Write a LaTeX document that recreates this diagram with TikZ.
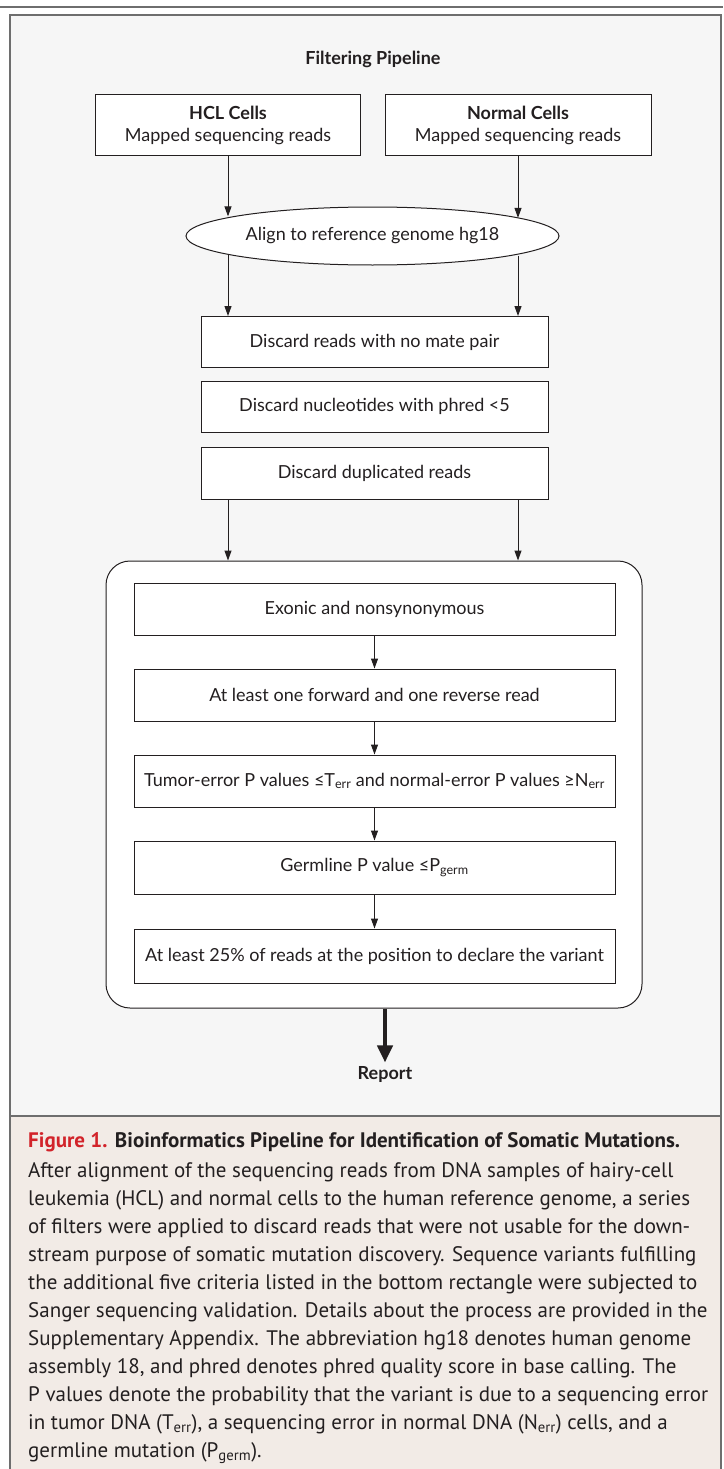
\documentclass[tikz,border=0pt]{standalone}
\usepackage{fontspec}
\setmainfont{Lato}
\newfontfamily\capfont{PT Sans}
\usetikzlibrary{shapes.geometric,arrows.meta,positioning}
\definecolor{panelgray}{HTML}{F6F6F6}
\definecolor{captan}{HTML}{F2EBE6}
\definecolor{framegray}{HTML}{6E6E6E}
\definecolor{figred}{HTML}{D2232A}
\definecolor{inkgray}{HTML}{231F20}

\begin{document}
\begin{tikzpicture}[x=1pt,y=-1pt, color=inkgray,
  font=\fontsize{18}{22}\selectfont,
  box/.style={draw, rectangle, fill=white, line width=1pt, align=center, inner sep=0pt},
  flow/.style={-{Triangle[length=10pt,width=7pt]}, line width=1pt},
  bigflow/.style={-{Triangle[length=17pt,width=15pt]}, line width=4pt}]
\useasboundingbox (0,0) rectangle (723,1469);
% page frame
\draw[framegray, line width=2.5pt] (0,7) -- (723,7);
\fill[panelgray] (10,15) rectangle (721,1116);
\fill[captan] (10,1116) rectangle (721,1469);
\draw[framegray, line width=2pt] (10,1472) -- (10,15) -- (721,15) -- (721,1472);
\draw[framegray, line width=2pt] (10,1116) -- (721,1116);

\node[font=\fontsize{18}{22}\selectfont\bfseries] (title) at (373,59) {Filtering Pipeline};
\node[box, minimum width=265pt, minimum height=60pt] (hcl) at (228,125) {\textbf{HCL Cells}\\Mapped sequencing reads};
\node[box, minimum width=266pt, minimum height=60pt] (normal) at (518,125) {\textbf{Normal Cells}\\Mapped sequencing reads};
\node[draw, ellipse, fill=white, line width=1pt, minimum width=373pt, minimum height=58pt, inner sep=0pt] (align) at (372.5,236) {Align to reference genome hg18};
\draw[flow] (hcl.south) -- (hcl.south |- align.172.5);
\draw[flow] (normal.south) -- (normal.south |- align.7.5);

% read filters
\node[box, minimum width=347pt, minimum height=51pt] (mate) at (374.5,342) {Discard reads with no mate pair};
\node[box, minimum width=347pt, minimum height=51pt] (phred) at (374.5,406.5) {Discard nucleotides with phred <5};
\node[box, minimum width=347pt, minimum height=52pt] (dup) at (374.5,473) {Discard duplicated reads};
\draw[flow] (hcl.south |- align.187.5) -- (hcl.south |- mate.north);
\draw[flow] (normal.south |- align.352.5) -- (normal.south |- mate.north);

% variant criteria
\node[draw, rectangle, rounded corners=24pt, fill=white, line width=1pt, minimum width=536pt, minimum height=447pt] (crit) at (374,784.5) {};
\draw[flow] (dup.south -| hcl.south) -- (hcl.south |- crit.north);
\draw[flow] (dup.south -| normal.south) -- (normal.south |- crit.north);
\node[box, minimum width=481pt, minimum height=52pt] (exon) at (374.5,609) {Exonic and nonsynonymous};
\node[box, minimum width=481pt, minimum height=52pt] (fwd) at (374.5,695) {At least one forward and one reverse read};
\node[box, minimum width=481pt, minimum height=52pt] (tumor) at (374.5,781) {Tumor-error P values ≤T\textsubscript{err} and normal-error P values ≥N\textsubscript{err}};
\node[box, minimum width=481pt, minimum height=53pt] (germ) at (374.5,867.5) {Germline P value ≤P\textsubscript{germ}};
\node[box, minimum width=481pt, minimum height=54pt] (pct) at (374.5,956) {At least 25\% of reads at the position to declare the variant};
\draw[flow] (exon) -- (fwd);
\draw[flow] (fwd) -- (tumor);
\draw[flow] (tumor) -- (germ);
\draw[flow] (germ) -- (pct);

\node[font=\fontsize{18}{22}\selectfont\bfseries] (report) at (385,1074) {Report};
\draw[bigflow] (crit.south -| report) -- (report.north);

% caption
\node[anchor=base west, inner sep=0pt, font=\capfont\fontsize{21}{28}\selectfont] (captitle) at (28,1147) {\textcolor{figred}{\bfseries Figure 1.} \textbf{Bioinformatics Pipeline for Identification of Somatic Mutations.}};
\node[anchor=north west, inner sep=0pt, align=left, font=\capfont\fontsize{21}{28}\selectfont] (captext) at (28,1162.5) {After alignment of the sequencing reads from DNA samples of hairy-cell\\
leukemia (HCL) and normal cells to the human reference genome, a series\\
of filters were applied to discard reads that were not usable for the down-\\
stream purpose of somatic mutation discovery. Sequence variants fulfilling\\
the additional five criteria listed in the bottom rectangle were subjected to\\
Sanger sequencing validation. Details about the process are provided in the\\
Supplementary Appendix. The abbreviation hg18 denotes human genome\\
assembly 18, and phred denotes phred quality score in base calling. The\\
P values denote the probability that the variant is due to a sequencing error\\
in tumor DNA (T\textsubscript{err}), a sequencing error in normal DNA (N\textsubscript{err}) cells, and a\\
germline mutation (P\textsubscript{germ}).};
\end{tikzpicture}
\end{document}
